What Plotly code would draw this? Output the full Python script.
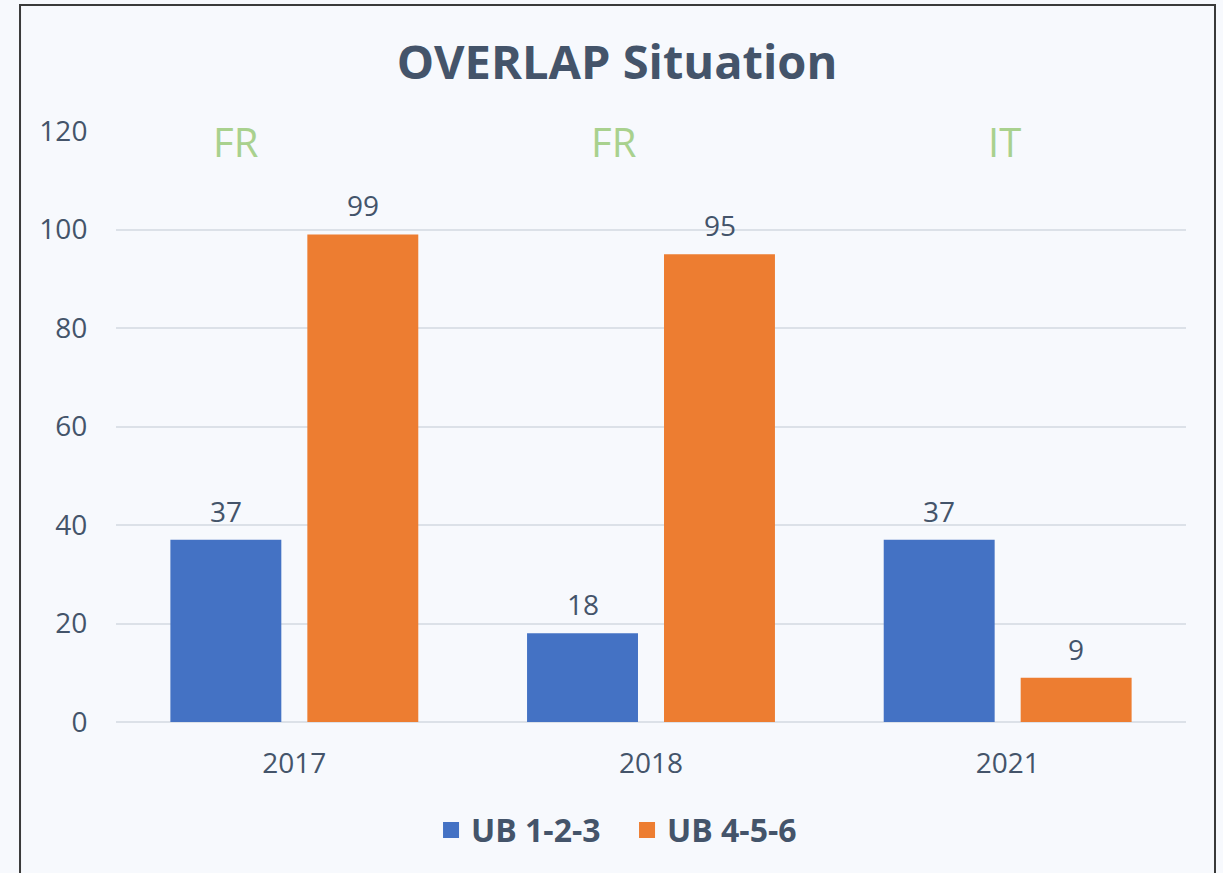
import plotly.graph_objects as go

years = ["2017", "2018", "2021"]
ub123 = [37, 18, 37]
ub456 = [99, 95, 9]
country_labels = ["FR", "FR", "IT"]
series_names = ["UB 1-2-3", "UB 4-5-6"]
y_ticks = [0, 20, 40, 60, 80, 100, 120]

txt = "#44546A"
blue = "#4472C4"
orange = "#ED7D31"
font_family = "Open Sans, Noto Sans, sans-serif"

fig = go.Figure()
for name, vals, col in zip(series_names, [ub123, ub456], [blue, orange]):
    fig.add_trace(go.Bar(
        name=name, x=years, y=vals, showlegend=False,
        marker=dict(color=col, line=dict(width=0)),
        hoverinfo="x+y+name",
    ))
# value labels above bars (x given as category index)
for vals, shift in zip([ub123, ub456], [-68.5, 68.5]):
    for i, v in enumerate(vals):
        fig.add_annotation(x=i, y=v, text=str(v), showarrow=False,
                           xshift=shift, yshift=8, yanchor="bottom",
                           font=dict(size=28, color=txt, family=font_family))
# legend entries
for name, col in zip(series_names, [blue, orange]):
    fig.add_trace(go.Scatter(
        name="<b>" + name + "</b>", x=[None], y=[None], mode="markers",
        marker=dict(symbol="square", size=22, color=col), showlegend=True,
    ))

ann_x = [0.1117, 0.4654, 0.830]
for xp, lab in zip(ann_x, country_labels):
    fig.add_annotation(xref="paper", yref="paper", x=xp, y=0.983, text=lab,
                       showarrow=False, xanchor="center", yanchor="middle",
                       font=dict(size=40, color="#A9D18E", family=font_family))

fig.add_shape(type="rect", xref="paper", yref="paper",
              x0=-0.0897, x1=1.0271, y0=-0.32, y1=1.2132,
              line=dict(color="#3A3A3A", width=2), fillcolor="rgba(0,0,0,0)", layer="below")

fig.update_layout(
    width=1223, height=873,
    margin=dict(l=116, r=37, t=131, b=151),
    paper_bgcolor="#F7F9FD", plot_bgcolor="#F7F9FD",
    barmode="group", bargap=0.232, bargroupgap=0.19,
    title=dict(text="<b>OVERLAP Situation</b>", x=0.5045, xanchor="center",
               y=0.928, yanchor="middle",
               font=dict(size=47, color=txt, family=font_family)),
    font=dict(family=font_family, color=txt),
    legend=dict(orientation="h", x=0.4776, xanchor="center", y=-0.183, yanchor="middle",
                font=dict(size=32, color=txt, family=font_family),
                bgcolor="rgba(0,0,0,0)", traceorder="normal", itemwidth=30,
                entrywidth=151, entrywidthmode="pixels"),
    showlegend=True,
)
fig.update_xaxes(type="category", categoryorder="array", categoryarray=years,
                 range=[-0.5, len(years) - 0.5], autorange=False,
                 showgrid=False, showline=False, zeroline=False,
                 ticks="outside", ticklen=16, tickcolor="rgba(0,0,0,0)",
                 tickfont=dict(size=28, color=txt, family=font_family))
fig.update_yaxes(range=[0, 120], tickvals=y_ticks, showgrid=True, gridcolor="#DCE1E8",
                 gridwidth=2, zeroline=True, zerolinecolor="#DCE1E8", zerolinewidth=2,
                 showline=False, ticks="outside", ticklen=22, tickcolor="rgba(0,0,0,0)",
                 tickfont=dict(size=28, color=txt, family=font_family))

fig.write_html("out.html", post_script="document.body.style.margin='0';",
               config={"displayModeBar": False})
